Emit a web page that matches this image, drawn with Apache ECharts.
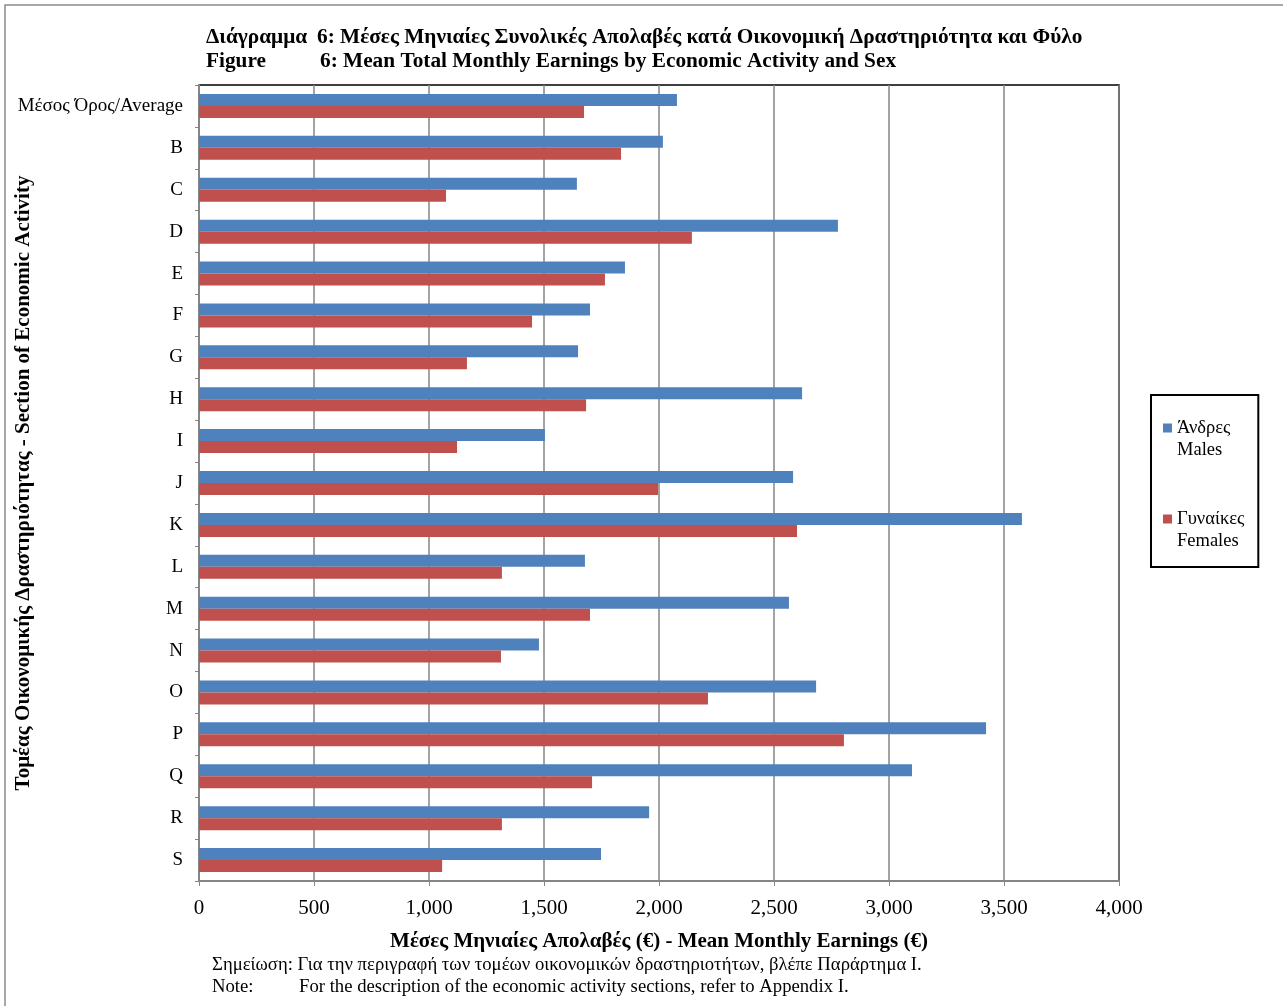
<!DOCTYPE html>
<html>
<head>
<meta charset="utf-8">
<script src="https://cdn.jsdelivr.net/npm/echarts@6/dist/echarts.min.js"></script>
<style>
html,body{margin:0;padding:0;background:#fff;}
#chart{width:1283px;height:1006px;}
</style>
</head>
<body>
<div id="chart"></div>
<script>
var categories = ['Μέσος Όρος/Average','B','C','D','E','F','G','H','I','J','K','L','M','N','O','P','Q','R','S'];
var males = [2078,2017,1643,2778,1852,1700,1648,2622,1504,2583,3578,1678,2565,1478,2683,3422,3100,1957,1748];
var females = [1674,1835,1074,2143,1765,1448,1165,1683,1122,1996,2600,1317,1700,1313,2213,2804,1709,1317,1057];
var xTicks = [0,500,1000,1500,2000,2500,3000,3500,4000];
var seriesNames = ['Άνδρες\nMales','Γυναίκες\nFemales'];

var F = 'Liberation Serif, Times New Roman, serif';
var chart = echarts.init(document.getElementById('chart'));
function fmt(v){return v.toLocaleString('en-US');}
chart.setOption({
  animation:false,
  backgroundColor:'#fff',
  textStyle:{fontFamily:F},
  graphic:[
    {type:'rect',shape:{x:5,y:5,width:1300,height:1020},style:{fill:'none',stroke:'#8c8c8c',lineWidth:1.5},silent:true},
    {type:'text',left:206,top:27,style:{text:'Διάγραμμα',font:'bold 21.3px '+F,fill:'#000'}},
    {type:'text',left:317,top:27,style:{text:'6: Μέσες Μηνιαίες Συνολικές Απολαβές κατά Οικονομική Δραστηριότητα και Φύλο',font:'bold 21.3px '+F,fill:'#000'}},
    {type:'text',left:206,top:51,style:{text:'Figure',font:'bold 21.3px '+F,fill:'#000'}},
    {type:'text',left:320,top:51,style:{text:'6: Mean Total Monthly Earnings by Economic Activity and Sex',font:'bold 21.3px '+F,fill:'#000'}},
    {type:'text',left:212,top:956,style:{text:'Σημείωση: Για την περιγραφή των τομέων οικονομικών δραστηριοτήτων, βλέπε Παράρτημα I.',font:'18.7px '+F,fill:'#000'}},
    {type:'text',left:212,top:978,style:{text:'Note:',font:'18.7px '+F,fill:'#000'}},
    {type:'text',left:299,top:978,style:{text:'For the description of the economic activity sections, refer to Appendix I.',font:'18.7px '+F,fill:'#000'}}
  ],
  legend:{
    orient:'vertical',
    left:1151, top:395,
    padding:[0,14,15,12],
    itemWidth:9,itemHeight:9,itemGap:25,
    icon:'rect',
    borderColor:'#000',borderWidth:2,
    formatter:function(n){return ' \n'+n;},
    textStyle:{fontFamily:F,fontSize:18.5,color:'#000',lineHeight:22},
    data:seriesNames
  },
  grid:{left:199,top:85,width:920,height:796,show:true,borderColor:'#000',borderWidth:1.5,containLabel:false,outerBoundsMode:'none'},
  xAxis:{
    type:'value',min:0,max:4000,interval:500,
    axisLine:{show:true,lineStyle:{color:'#868686',width:2}},
    axisTick:{show:true,length:5,lineStyle:{color:'#868686'}},
    axisLabel:{formatter:fmt,fontFamily:F,fontSize:21,color:'#000',margin:17},
    splitLine:{show:true,lineStyle:{color:'#868686',width:1.5}},
    name:'Μέσες Μηνιαίες Απολαβές (€) - Mean Monthly Earnings (€)',
    nameLocation:'middle',nameGap:50,nameMoveOverlap:false,
    nameTextStyle:{fontFamily:F,fontSize:21,fontWeight:'bold',color:'#000'}
  },
  yAxis:{
    type:'category',data:categories,inverse:true,
    axisLine:{show:true,lineStyle:{color:'#868686',width:2}},
    axisTick:{show:true,length:4,interval:0,lineStyle:{color:'#868686'}},
    axisLabel:{fontFamily:F,fontSize:19,color:'#000',margin:16,interval:0},
    splitLine:{show:false},
    name:'Τομέας Οικονομικής Δραστηριότητας - Section of Economic Activity',
    nameLocation:'middle',nameGap:165,nameRotate:90,nameMoveOverlap:false,
    nameTextStyle:{fontFamily:F,fontSize:21,fontWeight:'bold',color:'#000'}
  },
  series:[
    {name:seriesNames[0],type:'bar',data:males,barWidth:12,barGap:'0%',itemStyle:{color:'#4F81BD'}},
    {name:seriesNames[1],type:'bar',data:females,barWidth:12,barGap:'0%',itemStyle:{color:'#C0504D'}}
  ]
});
</script>
</body>
</html>
